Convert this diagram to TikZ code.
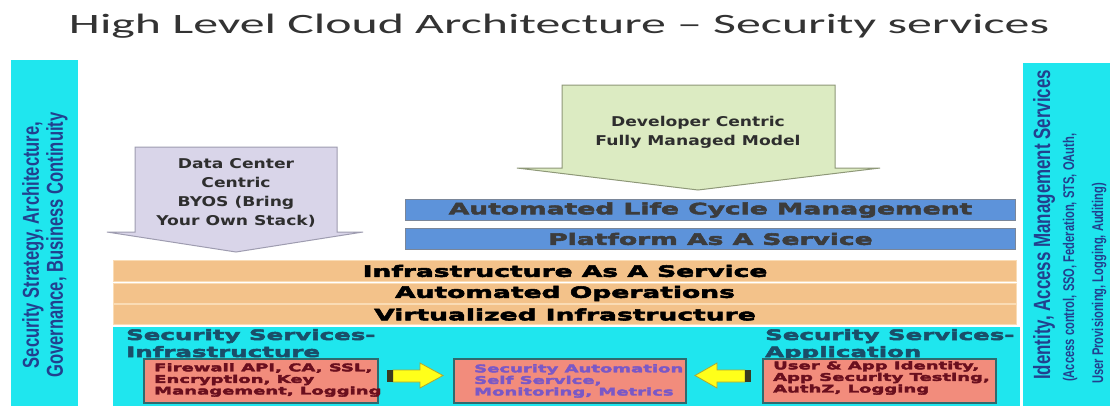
\documentclass[tikz,border=0pt]{standalone}
\usepackage{fontspec}
\newfontfamily\titlefont[FakeStretch=1.78]{Carlito}
\newfontfamily\arrowfont[FakeStretch=1.27]{DejaVu Sans}
\newfontfamily\heavyfont[FakeStretch=1.7, FakeBold=3.5]{DejaVu Sans Bold}
\newfontfamily\narrowfont[FakeStretch=0.72]{Liberation Sans}

\definecolor{cyanfill}{HTML}{1FE6EE}
\definecolor{barblue}{HTML}{22408E}
\definecolor{lavfill}{HTML}{D9D5E9}
\definecolor{lavline}{HTML}{9E9CB0}
\definecolor{greenfill}{HTML}{DCEBC2}
\definecolor{greenline}{HTML}{8E9878}
\definecolor{bandblue}{HTML}{5D93DA}
\definecolor{bandblueline}{HTML}{7A8699}
\definecolor{bandgray}{HTML}{3C3C3C}
\definecolor{orangefill}{HTML}{F3C28A}
\definecolor{orangeline}{HTML}{FADCB5}
\definecolor{sectext}{HTML}{1A4E69}
\definecolor{pinkfill}{HTML}{F28C7C}
\definecolor{pinkline}{HTML}{2F6A6E}
\definecolor{redtext}{HTML}{6A0F1E}
\definecolor{purpletext}{HTML}{7A58C6}
\definecolor{yellowfill}{HTML}{FFFF1A}
\definecolor{yellowline}{HTML}{B0A830}
\definecolor{tailbar}{HTML}{3A3A20}
\definecolor{arrowtext}{HTML}{2E2E2E}
\definecolor{titlegray}{HTML}{333333}

\tikzset{
  sidebar/.style={fill=cyanfill},
  sidetext/.style={text=barblue, inner sep=0pt},
  blockarrow/.style={line width=1pt, line join=miter},
  arrowlabel/.style={text=arrowtext, align=center, inner sep=0pt,
    font=\arrowfont\bfseries\fontsize{13.5}{19}\selectfont},
  blueband/.style={fill=bandblue, draw=bandblueline, line width=1pt,
    anchor=north west, inner sep=0pt, text=bandgray,
    font=\heavyfont\fontsize{15.6}{18}\selectfont},
  orangeband/.style={fill=orangefill, draw=orangeline, line width=1pt,
    anchor=north west, inner sep=0pt, text=black,
    font=\heavyfont\fontsize{15.6}{18}\selectfont},
  sechead/.style={text=sectext, anchor=base west, inner sep=0pt,
    font=\heavyfont\fontsize{14.4}{17}\selectfont},
  pinkbox/.style={fill=pinkfill, draw=pinkline, line width=1.5pt,
    anchor=north west, inner sep=0pt},
  boxtext/.style={anchor=west, align=left, inner sep=0pt,
    font=\heavyfont\fontsize{10.6}{11.6}\selectfont},
  yarrow/.style={fill=yellowfill, draw=yellowline, line width=0.8pt},
}

\begin{document}
\begin{tikzpicture}[x=1pt, y=-1pt]
\useasboundingbox (0,0) rectangle (1110,405);
\fill[white] (0,0) rectangle (1110,405);

% title
\node[anchor=base, text=titlegray, inner sep=0pt,
  font=\titlefont\fontsize{28}{32}\selectfont] (title) at (559,33)
  {High Level Cloud Architecture – Security services};

% side bars
\fill[sidebar] (11,60) rectangle (78,410);
\node[sidetext, rotate=90, align=center,
  font=\narrowfont\bfseries\fontsize{23}{24}\selectfont] (strategy) at (45,245)
  {Security Strategy, Architecture,\\Governance, Business Continuity};

\fill[sidebar] (1023,63) rectangle (1115,410);
\node[sidetext, rotate=90, anchor=base west,
  font=\narrowfont\bfseries\fontsize{23.5}{24}\selectfont] (iam) at (1050,380)
  {Identity, Access Management Services};
\node[sidetext, rotate=90, anchor=base west,
  font=\narrowfont\bfseries\fontsize{15.5}{17}\selectfont] (iamlist) at (1074,382)
  {(Access control, SSO, Federation, STS, OAuth,};
\node[sidetext, rotate=90, anchor=base west,
  font=\narrowfont\bfseries\fontsize{15.5}{17}\selectfont] (iamlist2) at (1103,384)
  {User Provisioning, Logging, Auditing)};

% consumption models
\draw[blockarrow, fill=greenfill, draw=greenline]
  (562,85) -- (835,85) -- (835,168) -- (880,168) -- (698,190)
  -- (517,168) -- (562,168) -- cycle;
\node[arrowlabel] (devcentric) at (698,132)
  {Developer Centric\\Fully Managed Model};

\draw[blockarrow, fill=lavfill, draw=lavline]
  (135,147) -- (337,147) -- (337,232) -- (363,232) -- (236,252)
  -- (107,232) -- (135,232) -- cycle;
\node[arrowlabel] (dccentric) at (236,193)
  {Data Center\\Centric\\BYOS (Bring\\Your Own Stack)};

% platform layers
\node[blueband, minimum width=610pt, minimum height=21pt] (alcm) at (405,199)
  {Automated Life Cycle Management};
\node[blueband, minimum width=610pt, minimum height=21pt] (paas) at (405,228)
  {Platform As A Service};

% infrastructure layers
\node[orangeband, minimum width=903pt, minimum height=21pt] (iaas) at (113,260)
  {Infrastructure As A Service};
\node[orangeband, minimum width=903pt, minimum height=20pt] (autoops) at (113,283)
  {Automated Operations};
\node[orangeband, minimum width=903pt, minimum height=20pt] (virt) at (113,304)
  {Virtualized Infrastructure};

% security services
\fill[cyanfill] (113,327) rectangle (1020,410);
\node[sechead] (secinfra1) at (126,340) {Security Services-};
\node[sechead] (secinfra2) at (126,357) {Infrastructure};
\node[sechead] (secapp1) at (765,340) {Security Services-};
\node[sechead] (secapp2) at (765,357) {Application};

\node[pinkbox, minimum width=234pt, minimum height=44pt] (infrabox) at (143,358) {};
\node[boxtext, text=redtext] (infratext) at (154,380)
  {Firewall API, CA, SSL,\\Encryption, Key\\Management, Logging};

\node[pinkbox, minimum width=232pt, minimum height=44pt] (autobox) at (453,358) {};
\node[boxtext, text=purpletext] (autotext) at (474,381)
  {Security Automation\\Self Service,\\Monitoring, Metrics};

\node[pinkbox, minimum width=233pt, minimum height=44pt] (appbox) at (762,358) {};
\node[boxtext, text=redtext] (apptext) at (773,378)
  {User \& App Identity,\\App Security Testing,\\AuthZ, Logging};

% feeds into the automation box
\draw[yarrow] (393,370) -- (420,370) -- (420,363) -- (443,375.5)
  -- (420,388) -- (420,382) -- (393,382) -- cycle;
\fill[tailbar] (387,370) rectangle (393,382);
\draw[yarrow] (745,370) -- (717,370) -- (717,363) -- (695,375.5)
  -- (717,388) -- (717,382) -- (745,382) -- cycle;
\fill[tailbar] (745,370) rectangle (751,382);
\end{tikzpicture}
\end{document}
